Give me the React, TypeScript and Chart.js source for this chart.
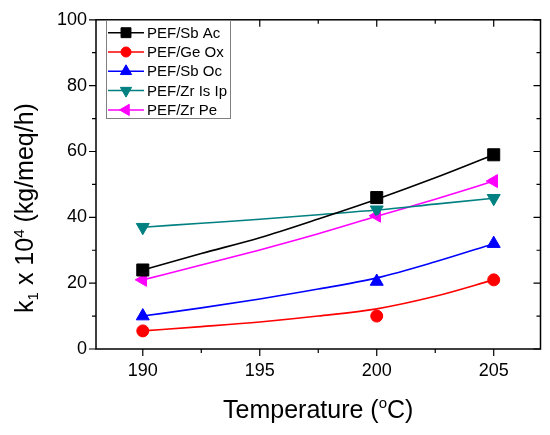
import React, { useEffect, useRef } from 'react';
import { Chart, registerables } from 'chart.js';
import { drawPoint } from 'chart.js/helpers';

Chart.register(...registerables);

// measured points
const temps = [190, 200, 205];
const sbAc = [24, 46, 59];
const geOx = [5.5, 10, 21];
const sbOc = [10, 20.5, 32];
const zrIsIp = [37, 42.3, 45.8];
const zrPe = [21, 40.5, 51];

// fitted curves
const fitTemps = [190, 192.5, 195, 197.5, 200, 202.5, 205];
const fitSbAc = [24, 29, 33.8, 39.5, 45.5, 52, 59];
const fitGeOx = [5.5, 6.8, 8.2, 10, 12.2, 16, 21];
const fitSbOc = [10, 12.5, 15.2, 18.2, 21.6, 26.5, 32];
const fitZrIsIp = [37, 38.2, 39.4, 40.8, 42.2, 44, 45.8];
const fitZrPe = [21, 25.5, 30.1, 35, 40.3, 45.5, 51];

const xMajor = [190, 195, 200, 205];
const xMinor = [192.5, 197.5, 202.5];
const yMajor = [0, 20, 40, 60, 80, 100];
const yMinor = [10, 30, 50, 70, 90];

const FONT = '"Liberation Sans", Arial, sans-serif';

const series = [
  { label: 'PEF/Sb Ac', color: '#000000', pts: sbAc, fit: fitSbAc, style: 'rect', rot: 0, r: 8.5, lr: 7 },
  { label: 'PEF/Ge Ox', color: '#ff0000', pts: geOx, fit: fitGeOx, style: 'circle', rot: 0, r: 6, lr: 5 },
  { label: 'PEF/Sb Oc', color: '#0000ff', pts: sbOc, fit: fitSbOc, style: 'triangle', rot: 0, r: 7.5, lr: 6.5 },
  { label: 'PEF/Zr Is Ip', color: '#008080', pts: zrIsIp, fit: fitZrIsIp, style: 'triangle', rot: 180, r: 7.5, lr: 6.5 },
  { label: 'PEF/Zr Pe', color: '#ff00ff', pts: zrPe, fit: fitZrPe, style: 'triangle', rot: 270, r: 7.5, lr: 6.5 },
];

const framePlugin = {
  id: 'frame',
  afterDraw(chart: any) {
    const { ctx, chartArea: a, scales } = chart;
    const xs = scales.x;
    const ys = scales.y;
    ctx.save();
    ctx.strokeStyle = '#000';
    ctx.lineWidth = 1.5;
    ctx.strokeRect(a.left, a.top, a.right - a.left, a.bottom - a.top);
    ctx.lineWidth = 1.2;
    const tick = (vals: number[], len: number) => {
      vals.forEach((v) => {
        const px = xs.getPixelForValue(v);
        ctx.beginPath();
        ctx.moveTo(px, a.bottom);
        ctx.lineTo(px, a.bottom + len);
        ctx.moveTo(px, a.top);
        ctx.lineTo(px, a.top + len);
        ctx.stroke();
      });
    };
    const ytick = (vals: number[], len: number) => {
      vals.forEach((v) => {
        const py = ys.getPixelForValue(v);
        ctx.beginPath();
        ctx.moveTo(a.left, py);
        ctx.lineTo(a.left - len, py);
        ctx.moveTo(a.right, py);
        ctx.lineTo(a.right - len, py);
        ctx.stroke();
      });
    };
    tick(xMajor, 7);
    tick(xMinor, 4);
    ytick(yMajor, 7);
    ytick(yMinor, 4);

    // x title
    ctx.fillStyle = '#000';
    ctx.textBaseline = 'alphabetic';
    const big = `25px ${FONT}`;
    const small = `15px ${FONT}`;
    ctx.font = big;
    const p1 = 'Temperature (';
    const p3 = 'C)';
    const w1 = ctx.measureText(p1).width;
    const w3 = ctx.measureText(p3).width;
    ctx.font = small;
    const w2 = ctx.measureText('o').width;
    let x0 = (a.left + a.right) / 2 - (w1 + w2 + w3) / 2;
    const by = 418;
    ctx.font = big;
    ctx.fillText(p1, x0, by);
    ctx.font = small;
    ctx.fillText('o', x0 + w1, by - 10);
    ctx.font = big;
    ctx.fillText(p3, x0 + w1 + w2, by);

    // y title
    const parts = [
      { t: 'k', f: big, dy: 0 },
      { t: '1', f: small, dy: 5 },
      { t: ' x 10', f: big, dy: 0 },
      { t: '4', f: small, dy: -9 },
      { t: ' (kg/meq/h)', f: big, dy: 0 },
    ];
    let total = 0;
    const widths = parts.map((p) => {
      ctx.font = p.f;
      const w = ctx.measureText(p.t).width;
      total += w;
      return w;
    });
    ctx.translate(33, 208);
    ctx.rotate(-Math.PI / 2);
    let cx = -total / 2;
    parts.forEach((p, i) => {
      ctx.font = p.f;
      ctx.fillText(p.t, cx, p.dy);
      cx += widths[i];
    });
    ctx.restore();

    // legend
    ctx.save();
    ctx.strokeStyle = '#808080';
    ctx.lineWidth = 1;
    ctx.fillStyle = '#fff';
    ctx.fillRect(106.5, 20.5, 124, 98);
    ctx.strokeRect(106.5, 20.5, 124, 98);
    series.forEach((s, i) => {
      const y = 32.7 + i * 19.3;
      ctx.strokeStyle = s.color;
      ctx.fillStyle = s.color;
      ctx.lineWidth = 1.5;
      ctx.beginPath();
      ctx.moveTo(108, y);
      ctx.lineTo(144, y);
      ctx.stroke();
      ctx.lineWidth = 1;
      drawPoint(ctx, { pointStyle: s.style, rotation: s.rot, radius: s.lr, borderWidth: 1 } as any, 126, y);
      ctx.fillStyle = '#000';
      ctx.font = `15px ${FONT}`;
      ctx.textBaseline = 'middle';
      ctx.fillText(s.label, 147, y + 1);
    });
    ctx.restore();
  },
};

const App: React.FC = () => {
  const chartRef = useRef<HTMLCanvasElement>(null);
  const chartInstance = useRef<Chart | null>(null);

  useEffect(() => {
    if (!chartRef.current) return;
    if (chartInstance.current) chartInstance.current.destroy();
    const ctx = chartRef.current.getContext('2d');
    if (!ctx) return;

    const lineSets = series.map((s) => ({
      type: 'line' as const,
      label: s.label + ' fit',
      data: fitTemps.map((t, i) => ({ x: t, y: s.fit[i] })),
      borderColor: s.color,
      borderWidth: 1.6,
      pointRadius: 0,
      tension: 0.3,
      cubicInterpolationMode: 'monotone' as const,
      fill: false,
      clip: false as any,
    }));
    const pointSets = series.map((s) => ({
      type: 'scatter' as const,
      label: s.label,
      data: temps.map((t, i) => ({ x: t, y: s.pts[i] })),
      backgroundColor: s.color,
      borderColor: s.color,
      borderWidth: 1,
      pointStyle: s.style as any,
      rotation: s.rot,
      pointRadius: s.r,
      showLine: false,
      clip: false as any,
    }));

    chartInstance.current = new Chart(ctx, {
      type: 'scatter',
      data: { datasets: [...lineSets, ...pointSets] as any },
      options: {
        responsive: true,
        maintainAspectRatio: false,
        animation: false,
        layout: { padding: { left: 0, top: 15, right: 9, bottom: 0 } },
        plugins: { legend: { display: false }, tooltip: { enabled: false } },
        scales: {
          x: {
            type: 'linear',
            min: 188,
            max: 207,
            grid: { display: false, drawTicks: false },
            border: { display: false },
            afterBuildTicks: (scale: any) => {
              scale.ticks = xMajor.map((v) => ({ value: v }));
            },
            afterFit: (scale: any) => {
              scale.height = 86;
            },
            ticks: {
              color: '#000',
              padding: 11,
              font: { family: FONT, size: 18 },
              maxRotation: 0,
            },
          },
          y: {
            type: 'linear',
            min: 0,
            max: 100,
            grid: { display: false, drawTicks: false },
            border: { display: false },
            afterBuildTicks: (scale: any) => {
              scale.ticks = yMajor.map((v) => ({ value: v }));
            },
            afterFit: (scale: any) => {
              scale.width = 96;
            },
            ticks: {
              color: '#000',
              padding: 9,
              font: { family: FONT, size: 18 },
            },
          },
        },
      },
      plugins: [framePlugin],
    });

    return () => {
      if (chartInstance.current) {
        chartInstance.current.destroy();
        chartInstance.current = null;
      }
    };
  }, []);

  return (
    <div style={{ position: 'absolute', left: 0, top: 0, width: 550, height: 435, background: '#fff' }}>
      <canvas ref={chartRef}></canvas>
    </div>
  );
};

export default App;
